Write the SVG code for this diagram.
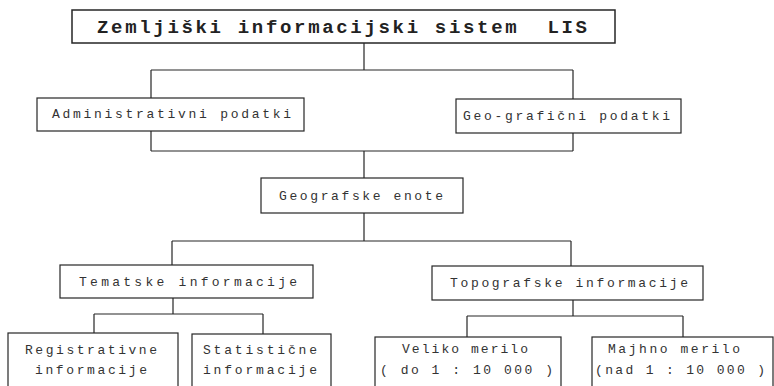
<svg xmlns="http://www.w3.org/2000/svg" width="774" height="386" viewBox="0 0 774 386">
  <style>
    .box { fill: #ffffff; stroke: #262626; stroke-width: 1.2; }
    .main { stroke-width: 1.5; }
    .wire { fill: none; stroke: #262626; stroke-width: 1.2; }
    .lbl { font-family: "Liberation Mono", "DejaVu Sans Mono", monospace; font-size: 13px; fill: #333333; }
    .title { font-family: "Liberation Mono", "DejaVu Sans Mono", monospace; font-size: 19px; font-weight: bold; fill: #222222; }
  </style>
  <rect width="774" height="386" fill="#ffffff"/>

  <!-- tree connectors -->
  <g id="connectors" class="wire">
    <path d="M364 43 V70 M151 70 H573 M151 70 V98 M573 70 V99"/>
    <path d="M151 131 V151 M573 133 V151 M151 151 H573 M364 151 V178"/>
    <path d="M364 213 V241 M172 241 H571 M172 241 V265 M571 241 V266"/>
    <path d="M173 298 V314 M94 314 H263 M94 314 V333 M263 314 V334"/>
    <path d="M573 300 V316 M467 316 H683 M467 316 V337 M683 316 V337"/>
  </g>

  <g id="lis">
    <rect class="box main" x="72" y="10" width="543" height="33"/>
    <text class="title" x="97" y="33" textLength="490" lengthAdjust="spacing" xml:space="preserve">Zemljiški informacijski sistem  LIS</text>
  </g>

  <g id="administrativni">
    <rect class="box" x="37" y="98" width="267" height="33"/>
    <text class="lbl" x="52" y="118" textLength="239" lengthAdjust="spacing">Administrativni podatki</text>
  </g>

  <g id="geograficni">
    <rect class="box" x="456" y="99" width="225" height="34"/>
    <text class="lbl" x="463" y="120" textLength="207" lengthAdjust="spacing">Geo-grafični podatki</text>
  </g>

  <g id="geografske-enote">
    <rect class="box" x="261" y="178" width="202" height="35"/>
    <text class="lbl" x="279" y="200" textLength="164" lengthAdjust="spacing">Geografske enote</text>
  </g>

  <g id="tematske">
    <rect class="box" x="60" y="265" width="253" height="33"/>
    <text class="lbl" x="79" y="286" textLength="218" lengthAdjust="spacing">Tematske informacije</text>
  </g>

  <g id="topografske">
    <rect class="box" x="432" y="266" width="271" height="34"/>
    <text class="lbl" x="450" y="287" textLength="238" lengthAdjust="spacing">Topografske informacije</text>
  </g>

  <g id="registrativne">
    <rect class="box" x="8" y="333" width="170" height="60"/>
    <text class="lbl" x="25" y="354" textLength="132" lengthAdjust="spacing">Registrativne</text>
    <text class="lbl" x="35" y="374" textLength="112" lengthAdjust="spacing">informacije</text>
  </g>

  <g id="statisticne">
    <rect class="box" x="192" y="334" width="139" height="60"/>
    <text class="lbl" x="203" y="354" textLength="114" lengthAdjust="spacing">Statistične</text>
    <text class="lbl" x="203" y="374" textLength="114" lengthAdjust="spacing">informacije</text>
  </g>

  <g id="veliko-merilo">
    <rect class="box" x="375" y="337" width="186" height="60"/>
    <text class="lbl" x="402" y="353" textLength="126" lengthAdjust="spacing">Veliko merilo</text>
    <text class="lbl" x="380" y="374" textLength="173" lengthAdjust="spacing">( do 1 : 10 000 )</text>
  </g>

  <g id="majhno-merilo">
    <rect class="box" x="592" y="337" width="181" height="60"/>
    <text class="lbl" x="608" y="353" textLength="132" lengthAdjust="spacing">Majhno merilo</text>
    <text class="lbl" x="595" y="374" textLength="170" lengthAdjust="spacing">(nad 1 : 10 000 )</text>
  </g>
</svg>
